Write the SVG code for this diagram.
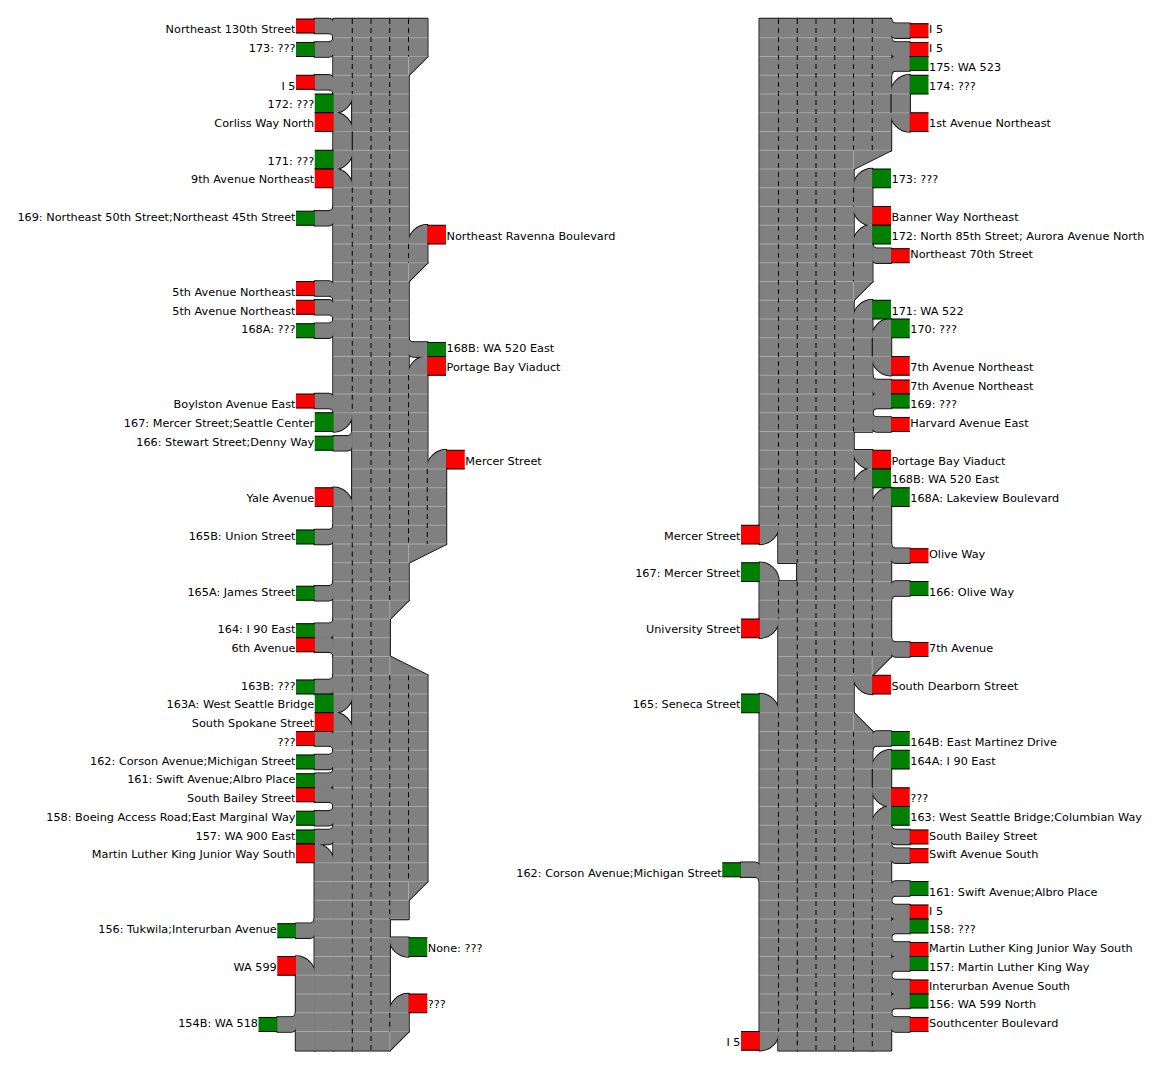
<svg xmlns="http://www.w3.org/2000/svg" width="1162" height="1070" viewBox="0 0 1162 1070">
<style>
text{font-family:"DejaVu Sans","Liberation Sans",sans-serif;font-size:11.25px;fill:#000;transform:translate(0px,0.8px)}
.e{text-anchor:end}
.ol{fill:#808080;stroke:#000;stroke-width:2.4;stroke-linejoin:round}
.fl{fill:#808080;stroke:#808080;stroke-width:0.8;stroke-linejoin:round}
.sep{fill:none;stroke:#a8a8a8;stroke-width:1}
.dash{fill:none;stroke:#000;stroke-width:1;stroke-dasharray:5 4}
.solid{fill:none;stroke:#000;stroke-width:1}
.rf{fill:#f00;stroke:#000;stroke-width:1;stroke-dasharray:18.75 18.75}
.gf{fill:#008000;stroke:#000;stroke-width:1;stroke-dasharray:18.75 18.75}
.rs{fill:#f00;stroke:#000;stroke-width:1;stroke-dasharray:18.75 14.06}
.gs{fill:#008000;stroke:#000;stroke-width:1;stroke-dasharray:18.75 14.06}
</style>
<defs>
<path id="sLTD" d="M-18.75,0H-4.69A4.69,4.69 0 0 1 0,4.69V18.75A4.69,4.69 0 0 0 -4.69,14.06H-18.75Z"/>
<path id="sLBU" d="M-18.75,4.69H-4.69A4.69,4.69 0 0 0 0,0V14.06A4.69,4.69 0 0 1 -4.69,18.75H-18.75Z"/>
<path id="sRTD" d="M18.75,0H4.69A4.69,4.69 0 0 0 0,4.69V18.75A4.69,4.69 0 0 1 4.69,14.06H18.75Z"/>
<path id="sRBU" d="M18.75,4.69H4.69A4.69,4.69 0 0 1 0,0V14.06A4.69,4.69 0 0 0 4.69,18.75H18.75Z"/>
<path id="dTL" d="M0,0H18.75A18.75,18.75 0 0 1 0,18.75Z"/>
<path id="dBL" d="M0,18.75V0A18.75,18.75 0 0 1 18.75,18.75Z"/>
<path id="dTR" d="M18.75,0V18.75A18.75,18.75 0 0 1 0,0Z"/>
<path id="dBR" d="M18.75,18.75H0A18.75,18.75 0 0 1 18.75,0Z"/>
<g id="Lroad">
<rect x="333.5" y="19" width="18.75" height="75"/>
<rect x="333.5" y="131.5" width="18.75" height="18.75"/>
<rect x="333.5" y="187.75" width="18.75" height="225"/>
<rect x="333.5" y="506.5" width="18.75" height="187.5"/>
<rect x="333.5" y="731.5" width="18.75" height="318.75"/>
<rect x="352.25" y="19" width="37.5" height="1031.25"/>
<rect x="389.75" y="19" width="18.75" height="581.25"/>
<rect x="389.75" y="675.25" width="18.75" height="243.75"/>
<rect x="389.75" y="1012.75" width="18.75" height="18.75"/>
<rect x="408.5" y="19" width="18.75" height="37.5"/>
<rect x="408.5" y="244" width="18.75" height="18.75"/>
<rect x="408.5" y="375.25" width="18.75" height="168.75"/>
<rect x="408.5" y="675.25" width="18.75" height="206.25"/>
<rect x="427.25" y="469" width="18.75" height="75"/>
<rect x="314.75" y="862.75" width="18.75" height="187.5"/>
<rect x="296" y="975.25" width="18.75" height="75"/>
<path d="M408.5,56.5H427.25L408.5,75.25Z M408.5,262.75H427.25L408.5,281.5Z M408.5,544H446L408.5,562.75Z M389.75,600.25H408.5L389.75,619Z M389.75,656.5L427.25,675.25H389.75Z M408.5,881.5H427.25L408.5,900.25Z M389.75,1031.5H408.5L389.75,1050.25Z"/>
<use href="#dTL" x="333.5" y="94"/>
<use href="#dBL" x="333.5" y="112.75"/>
<use href="#dTL" x="333.5" y="150.25"/>
<use href="#dBL" x="333.5" y="169"/>
<use href="#dBR" x="408.5" y="225.25"/>
<use href="#dBR" x="408.5" y="356.5"/>
<use href="#dTL" x="333.5" y="412.75"/>
<use href="#dBR" x="427.25" y="450.25"/>
<use href="#dBL" x="333.5" y="487.75"/>
<use href="#dTL" x="333.5" y="694"/>
<use href="#dBL" x="333.5" y="712.75"/>
<use href="#dBL" x="314.75" y="844"/>
<use href="#dTR" x="389.75" y="937.75"/>
<use href="#dBL" x="296" y="956.5"/>
<use href="#dBR" x="389.75" y="994"/>
</g>
<g id="Lramp">
<use href="#sLTD" x="333.5" y="19"/>
<use href="#sLTD" x="333.5" y="75.25"/>
<use href="#sLTD" x="333.5" y="281.5"/>
<use href="#sLTD" x="333.5" y="300.25"/>
<use href="#sLTD" x="333.5" y="394"/>
<use href="#sLTD" x="333.5" y="637.75"/>
<use href="#sLTD" x="333.5" y="731.5"/>
<use href="#sLTD" x="333.5" y="787.75"/>
<use href="#sLBU" x="333.5" y="37.75"/>
<use href="#sLBU" x="333.5" y="206.5"/>
<use href="#sLBU" x="333.5" y="319"/>
<use href="#sLBU" x="352.25" y="431.5"/>
<use href="#sLBU" x="333.5" y="525.25"/>
<use href="#sLBU" x="333.5" y="581.5"/>
<use href="#sLBU" x="333.5" y="619"/>
<use href="#sLBU" x="333.5" y="675.25"/>
<use href="#sLBU" x="333.5" y="750.25"/>
<use href="#sLBU" x="333.5" y="769"/>
<use href="#sLBU" x="333.5" y="806.5"/>
<use href="#sLBU" x="333.5" y="825.25"/>
<use href="#sLBU" x="314.75" y="919"/>
<use href="#sLBU" x="296" y="1012.75"/>
<use href="#sRBU" x="408.5" y="337.75"/>
</g>
<g id="Rroad">
<rect x="759.75" y="19" width="18.75" height="506.25"/>
<rect x="759.75" y="581.5" width="18.75" height="37.5"/>
<rect x="759.75" y="712.75" width="18.75" height="318.75"/>
<rect x="778.5" y="19" width="18.75" height="543.75"/>
<rect x="778.5" y="581.5" width="18.75" height="468.75"/>
<rect x="797.25" y="19" width="56.25" height="1031.25"/>
<rect x="853.5" y="19" width="37.5" height="131.25"/>
<rect x="853.5" y="187.75" width="18.75" height="18.75"/>
<rect x="853.5" y="244" width="18.75" height="37.5"/>
<rect x="853.5" y="319" width="18.75" height="112.5"/>
<rect x="853.5" y="487.75" width="18.75" height="187.5"/>
<rect x="853.5" y="731.5" width="18.75" height="318.75"/>
<rect x="872.25" y="337.75" width="18.75" height="18.75"/>
<rect x="872.25" y="506.5" width="18.75" height="150"/>
<rect x="872.25" y="769" width="18.75" height="18.75"/>
<rect x="872.25" y="825.25" width="18.75" height="225"/>
<rect x="891" y="94" width="18.75" height="18.75"/>
<path d="M853.5,150.25H891L853.5,169Z M853.5,281.5H872.25L853.5,300.25Z M872.25,656.5H891L872.25,675.25Z M853.5,712.75L872.25,731.5H853.5Z"/>
<use href="#dBR" x="891" y="75.25"/>
<use href="#dTR" x="891" y="112.75"/>
<use href="#dBR" x="853.5" y="169"/>
<use href="#dTR" x="853.5" y="206.5"/>
<use href="#dBR" x="853.5" y="225.25"/>
<use href="#dBR" x="853.5" y="300.25"/>
<use href="#dTR" x="853.5" y="450.25"/>
<use href="#dBR" x="853.5" y="469"/>
<use href="#dTR" x="853.5" y="675.25"/>
<use href="#dBR" x="872.25" y="319"/>
<use href="#dTR" x="872.25" y="356.5"/>
<use href="#dBR" x="872.25" y="487.75"/>
<use href="#dBR" x="872.25" y="750.25"/>
<use href="#dTR" x="872.25" y="787.75"/>
<use href="#dBR" x="872.25" y="806.5"/>
<use href="#dTL" x="759.75" y="525.25"/>
<use href="#dBL" x="759.75" y="562.75"/>
<use href="#dTL" x="759.75" y="619"/>
<use href="#dBL" x="759.75" y="694"/>
<use href="#dTL" x="759.75" y="1031.5"/>
</g>
<g id="Rramp">
<use href="#sRBU" x="891" y="19"/>
<use href="#sRBU" x="891" y="37.75"/>
<use href="#sRBU" x="872.25" y="244"/>
<use href="#sRBU" x="872.25" y="375.25"/>
<use href="#sRBU" x="872.25" y="412.75"/>
<use href="#sRBU" x="891" y="544"/>
<use href="#sRBU" x="891" y="637.75"/>
<use href="#sRBU" x="891" y="825.25"/>
<use href="#sRBU" x="891" y="844"/>
<use href="#sRBU" x="891" y="900.25"/>
<use href="#sRBU" x="891" y="937.75"/>
<use href="#sRBU" x="891" y="975.25"/>
<use href="#sRBU" x="891" y="1012.75"/>
<use href="#sRTD" x="891" y="56.5"/>
<use href="#sRTD" x="872.25" y="394"/>
<use href="#sRTD" x="891" y="581.5"/>
<use href="#sRTD" x="872.25" y="731.5"/>
<use href="#sRTD" x="891" y="881.5"/>
<use href="#sRTD" x="891" y="919"/>
<use href="#sRTD" x="891" y="956.5"/>
<use href="#sRTD" x="891" y="994"/>
<use href="#sLTD" x="759.75" y="862.75"/>
</g>
<mask id="mL" maskUnits="userSpaceOnUse" x="0" y="0" width="1162" height="1070"><use href="#Lroad" fill="#fff"/></mask>
<mask id="mR" maskUnits="userSpaceOnUse" x="0" y="0" width="1162" height="1070"><use href="#Rroad" fill="#fff"/></mask>
</defs>
<rect width="1162" height="1070" fill="#fff"/>
<g id="roads">
<use href="#Lroad" class="ol"/><use href="#Lramp" class="ol"/><use href="#Rroad" class="ol"/><use href="#Rramp" class="ol"/>
<use href="#Lroad" class="fl"/><use href="#Lramp" class="fl"/><use href="#Rroad" class="fl"/><use href="#Rramp" class="fl"/>
<path class="sep" mask="url(#mL)" d="M250,37.75H470M250,56.5H470M250,75.25H470M250,94H470M250,112.75H470M250,131.5H470M250,150.25H470M250,169H470M250,187.75H470M250,206.5H470M250,225.25H470M250,244H470M250,262.75H470M250,281.5H470M250,300.25H470M250,319H470M250,337.75H470M250,356.5H470M250,375.25H470M250,394H470M250,412.75H470M250,431.5H470M250,450.25H470M250,469H470M250,487.75H470M250,506.5H470M250,525.25H470M250,544H470M250,562.75H470M250,581.5H470M250,600.25H470M250,619H470M250,637.75H470M250,656.5H470M250,675.25H470M250,694H470M250,712.75H470M250,731.5H470M250,750.25H470M250,769H470M250,787.75H470M250,806.5H470M250,825.25H470M250,844H470M250,862.75H470M250,881.5H470M250,900.25H470M250,919H470M250,937.75H470M250,956.5H470M250,975.25H470M250,994H470M250,1012.75H470M250,1031.5H470"/>
<path class="sep" mask="url(#mR)" d="M715,37.75H935M715,56.5H935M715,75.25H935M715,94H935M715,112.75H935M715,131.5H935M715,150.25H935M715,169H935M715,187.75H935M715,206.5H935M715,225.25H935M715,244H935M715,262.75H935M715,281.5H935M715,300.25H935M715,319H935M715,337.75H935M715,356.5H935M715,375.25H935M715,394H935M715,412.75H935M715,431.5H935M715,450.25H935M715,469H935M715,487.75H935M715,506.5H935M715,525.25H935M715,544H935M715,562.75H935M715,581.5H935M715,600.25H935M715,619H935M715,637.75H935M715,656.5H935M715,675.25H935M715,694H935M715,712.75H935M715,731.5H935M715,750.25H935M715,769H935M715,787.75H935M715,806.5H935M715,825.25H935M715,844H935M715,862.75H935M715,881.5H935M715,900.25H935M715,919H935M715,937.75H935M715,956.5H935M715,975.25H935M715,994H935M715,1012.75H935M715,1031.5H935"/>
<path class="sep" d="M408.5,56.5V75.25M408.5,262.75V281.5M408.5,544V562.75M389.75,600.25V619M389.75,656.5V675.25M408.5,881.5V900.25M389.75,1031.5V1050.25M853.5,150.25V169M853.5,281.5V300.25M872.25,656.5V675.25M853.5,712.75V731.5"/>
<path class="dash" d="M352.25,19V94M352.25,187.75V412.75M352.25,506.5V694M352.25,731.5V1050.25M371,19V1050.25M389.75,19V600.25M389.75,675.25V919M389.75,1012.75V1031.5M408.5,19V56.5M408.5,244V262.75M408.5,375.25V544M408.5,675.25V881.5M427.25,469V544"/>
<path class="dash" d="M778.5,19V525.25M778.5,581.5V619M778.5,712.75V1031.5M797.25,19V562.75M797.25,581.5V1050.25M816,19V1050.25M834.75,19V1050.25M853.5,19V150.25M853.5,187.75V206.5M853.5,244V281.5M853.5,319V431.5M853.5,487.75V675.25M853.5,731.5V1050.25M872.25,19V150.25M872.25,506.5V656.5M872.25,825.25V1050.25"/>
<path class="solid" d="M352.25,131.5V150.25M891,94V112.75M872.25,337.75V356.5M872.25,769V787.75"/>
</g>
<g id="left-ramps">
<g id="L0"><rect class="rs" x="296" y="19" width="18.75" height="14.06"/><text class="e" x="295.5" y="32.6">Northeast 130th Street</text></g>
<g id="L1"><rect class="gs" x="296" y="42.44" width="18.75" height="14.06"/><text class="e" x="295.5" y="51.35">173: ???</text></g>
<g id="L3"><rect class="rs" x="296" y="75.25" width="18.75" height="14.06"/><text class="e" x="295.5" y="88.85">I 5</text></g>
<g id="L4"><rect class="gf" x="314.75" y="94" width="18.75" height="18.75"/><text class="e" x="314.25" y="107.6">172: ???</text></g>
<g id="L5"><rect class="rf" x="314.75" y="112.75" width="18.75" height="18.75"/><text class="e" x="314.25" y="126.35">Corliss Way North</text></g>
<g id="L7"><rect class="gf" x="314.75" y="150.25" width="18.75" height="18.75"/><text class="e" x="314.25" y="163.85">171: ???</text></g>
<g id="L8"><rect class="rf" x="314.75" y="169" width="18.75" height="18.75"/><text class="e" x="314.25" y="182.6">9th Avenue Northeast</text></g>
<g id="L10"><rect class="gs" x="296" y="211.19" width="18.75" height="14.06"/><text class="e" x="295.5" y="220.1">169: Northeast 50th Street;Northeast 45th Street</text></g>
<g id="L11"><rect class="rf" x="427.25" y="225.25" width="18.75" height="18.75"/><text x="446.5" y="238.85">Northeast Ravenna Boulevard</text></g>
<g id="L14"><rect class="rs" x="296" y="281.5" width="18.75" height="14.06"/><text class="e" x="295.5" y="295.1">5th Avenue Northeast</text></g>
<g id="L15"><rect class="rs" x="296" y="300.25" width="18.75" height="14.06"/><text class="e" x="295.5" y="313.85">5th Avenue Northeast</text></g>
<g id="L16"><rect class="gs" x="296" y="323.69" width="18.75" height="14.06"/><text class="e" x="295.5" y="332.6">168A: ???</text></g>
<g id="L17"><rect class="gs" x="427.25" y="342.44" width="18.75" height="14.06"/><text x="446.5" y="351.35">168B: WA 520 East</text></g>
<g id="L18"><rect class="rf" x="427.25" y="356.5" width="18.75" height="18.75"/><text x="446.5" y="370.1">Portage Bay Viaduct</text></g>
<g id="L20"><rect class="rs" x="296" y="394" width="18.75" height="14.06"/><text class="e" x="295.5" y="407.6">Boylston Avenue East</text></g>
<g id="L21"><rect class="gf" x="314.75" y="412.75" width="18.75" height="18.75"/><text class="e" x="314.25" y="426.35">167: Mercer Street;Seattle Center</text></g>
<g id="L22"><rect class="gs" x="314.75" y="436.19" width="18.75" height="14.06"/><text class="e" x="314.25" y="445.1">166: Stewart Street;Denny Way</text></g>
<g id="L23"><rect class="rf" x="446" y="450.25" width="18.75" height="18.75"/><text x="465.25" y="463.85">Mercer Street</text></g>
<g id="L25"><rect class="rf" x="314.75" y="487.75" width="18.75" height="18.75"/><text class="e" x="314.25" y="501.35">Yale Avenue</text></g>
<g id="L27"><rect class="gs" x="296" y="529.94" width="18.75" height="14.06"/><text class="e" x="295.5" y="538.85">165B: Union Street</text></g>
<g id="L30"><rect class="gs" x="296" y="586.19" width="18.75" height="14.06"/><text class="e" x="295.5" y="595.1">165A: James Street</text></g>
<g id="L32"><rect class="gs" x="296" y="623.69" width="18.75" height="14.06"/><text class="e" x="295.5" y="632.6">164: I 90 East</text></g>
<g id="L33"><rect class="rs" x="296" y="637.75" width="18.75" height="14.06"/><text class="e" x="295.5" y="651.35">6th Avenue</text></g>
<g id="L35"><rect class="gs" x="296" y="679.94" width="18.75" height="14.06"/><text class="e" x="295.5" y="688.85">163B: ???</text></g>
<g id="L36"><rect class="gf" x="314.75" y="694" width="18.75" height="18.75"/><text class="e" x="314.25" y="707.6">163A: West Seattle Bridge</text></g>
<g id="L37"><rect class="rf" x="314.75" y="712.75" width="18.75" height="18.75"/><text class="e" x="314.25" y="726.35">South Spokane Street</text></g>
<g id="L38"><rect class="rs" x="296" y="731.5" width="18.75" height="14.06"/><text class="e" x="295.5" y="745.1">???</text></g>
<g id="L39"><rect class="gs" x="296" y="754.94" width="18.75" height="14.06"/><text class="e" x="295.5" y="763.85">162: Corson Avenue;Michigan Street</text></g>
<g id="L40"><rect class="gs" x="296" y="773.69" width="18.75" height="14.06"/><text class="e" x="295.5" y="782.6">161: Swift Avenue;Albro Place</text></g>
<g id="L41"><rect class="rs" x="296" y="787.75" width="18.75" height="14.06"/><text class="e" x="295.5" y="801.35">South Bailey Street</text></g>
<g id="L42"><rect class="gs" x="296" y="811.19" width="18.75" height="14.06"/><text class="e" x="295.5" y="820.1">158: Boeing Access Road;East Marginal Way</text></g>
<g id="L43"><rect class="gs" x="296" y="829.94" width="18.75" height="14.06"/><text class="e" x="295.5" y="838.85">157: WA 900 East</text></g>
<g id="L44"><rect class="rf" x="296" y="844" width="18.75" height="18.75"/><text class="e" x="295.5" y="857.6">Martin Luther King Junior Way South</text></g>
<g id="L48"><rect class="gs" x="277.25" y="923.69" width="18.75" height="14.06"/><text class="e" x="276.75" y="932.6">156: Tukwila;Interurban Avenue</text></g>
<g id="L49"><rect class="gf" x="408.5" y="937.75" width="18.75" height="18.75"/><text x="427.75" y="951.35">None: ???</text></g>
<g id="L50"><rect class="rf" x="277.25" y="956.5" width="18.75" height="18.75"/><text class="e" x="276.75" y="970.1">WA 599</text></g>
<g id="L52"><rect class="rf" x="408.5" y="994" width="18.75" height="18.75"/><text x="427.75" y="1007.6">???</text></g>
<g id="L53"><rect class="gs" x="258.5" y="1017.44" width="18.75" height="14.06"/><text class="e" x="258" y="1026.35">154B: WA 518</text></g>
</g>
<g id="right-ramps">
<g id="R0"><rect class="rs" x="909.75" y="23.69" width="18.75" height="14.06"/><text x="929" y="32.6">I 5</text></g>
<g id="R1"><rect class="rs" x="909.75" y="42.44" width="18.75" height="14.06"/><text x="929" y="51.35">I 5</text></g>
<g id="R2"><rect class="gs" x="909.75" y="56.5" width="18.75" height="14.06"/><text x="929" y="70.1">175: WA 523</text></g>
<g id="R3"><rect class="gf" x="909.75" y="75.25" width="18.75" height="18.75"/><text x="929" y="88.85">174: ???</text></g>
<g id="R5"><rect class="rf" x="909.75" y="112.75" width="18.75" height="18.75"/><text x="929" y="126.35">1st Avenue Northeast</text></g>
<g id="R8"><rect class="gf" x="872.25" y="169" width="18.75" height="18.75"/><text x="891.5" y="182.6">173: ???</text></g>
<g id="R10"><rect class="rf" x="872.25" y="206.5" width="18.75" height="18.75"/><text x="891.5" y="220.1">Banner Way Northeast</text></g>
<g id="R11"><rect class="gf" x="872.25" y="225.25" width="18.75" height="18.75"/><text x="891.5" y="238.85">172: North 85th Street; Aurora Avenue North</text></g>
<g id="R12"><rect class="rs" x="891" y="248.69" width="18.75" height="14.06"/><text x="910.25" y="257.6">Northeast 70th Street</text></g>
<g id="R15"><rect class="gf" x="872.25" y="300.25" width="18.75" height="18.75"/><text x="891.5" y="313.85">171: WA 522</text></g>
<g id="R16"><rect class="gf" x="891" y="319" width="18.75" height="18.75"/><text x="910.25" y="332.6">170: ???</text></g>
<g id="R18"><rect class="rf" x="891" y="356.5" width="18.75" height="18.75"/><text x="910.25" y="370.1">7th Avenue Northeast</text></g>
<g id="R19"><rect class="rs" x="891" y="379.94" width="18.75" height="14.06"/><text x="910.25" y="388.85">7th Avenue Northeast</text></g>
<g id="R20"><rect class="gs" x="891" y="394" width="18.75" height="14.06"/><text x="910.25" y="407.6">169: ???</text></g>
<g id="R21"><rect class="rs" x="891" y="417.44" width="18.75" height="14.06"/><text x="910.25" y="426.35">Harvard Avenue East</text></g>
<g id="R23"><rect class="rf" x="872.25" y="450.25" width="18.75" height="18.75"/><text x="891.5" y="463.85">Portage Bay Viaduct</text></g>
<g id="R24"><rect class="gf" x="872.25" y="469" width="18.75" height="18.75"/><text x="891.5" y="482.6">168B: WA 520 East</text></g>
<g id="R25"><rect class="gf" x="891" y="487.75" width="18.75" height="18.75"/><text x="910.25" y="501.35">168A: Lakeview Boulevard</text></g>
<g id="R27"><rect class="rf" x="741" y="525.25" width="18.75" height="18.75"/><text class="e" x="740.5" y="538.85">Mercer Street</text></g>
<g id="R28"><rect class="rs" x="909.75" y="548.69" width="18.75" height="14.06"/><text x="929" y="557.6">Olive Way</text></g>
<g id="R29"><rect class="gf" x="741" y="562.75" width="18.75" height="18.75"/><text class="e" x="740.5" y="576.35">167: Mercer Street</text></g>
<g id="R30"><rect class="gs" x="909.75" y="581.5" width="18.75" height="14.06"/><text x="929" y="595.1">166: Olive Way</text></g>
<g id="R32"><rect class="rf" x="741" y="619" width="18.75" height="18.75"/><text class="e" x="740.5" y="632.6">University Street</text></g>
<g id="R33"><rect class="rs" x="909.75" y="642.44" width="18.75" height="14.06"/><text x="929" y="651.35">7th Avenue</text></g>
<g id="R35"><rect class="rf" x="872.25" y="675.25" width="18.75" height="18.75"/><text x="891.5" y="688.85">South Dearborn Street</text></g>
<g id="R36"><rect class="gf" x="741" y="694" width="18.75" height="18.75"/><text class="e" x="740.5" y="707.6">165: Seneca Street</text></g>
<g id="R38"><rect class="gs" x="891" y="731.5" width="18.75" height="14.06"/><text x="910.25" y="745.1">164B: East Martinez Drive</text></g>
<g id="R39"><rect class="gf" x="891" y="750.25" width="18.75" height="18.75"/><text x="910.25" y="763.85">164A: I 90 East</text></g>
<g id="R41"><rect class="rf" x="891" y="787.75" width="18.75" height="18.75"/><text x="910.25" y="801.35">???</text></g>
<g id="R42"><rect class="gf" x="891" y="806.5" width="18.75" height="18.75"/><text x="910.25" y="820.1">163: West Seattle Bridge;Columbian Way</text></g>
<g id="R43"><rect class="rs" x="909.75" y="829.94" width="18.75" height="14.06"/><text x="929" y="838.85">South Bailey Street</text></g>
<g id="R44"><rect class="rs" x="909.75" y="848.69" width="18.75" height="14.06"/><text x="929" y="857.6">Swift Avenue South</text></g>
<g id="R45"><rect class="gs" x="722.25" y="862.75" width="18.75" height="14.06"/><text class="e" x="721.75" y="876.35">162: Corson Avenue;Michigan Street</text></g>
<g id="R46"><rect class="gs" x="909.75" y="881.5" width="18.75" height="14.06"/><text x="929" y="895.1">161: Swift Avenue;Albro Place</text></g>
<g id="R47"><rect class="rs" x="909.75" y="904.94" width="18.75" height="14.06"/><text x="929" y="913.85">I 5</text></g>
<g id="R48"><rect class="gs" x="909.75" y="919" width="18.75" height="14.06"/><text x="929" y="932.6">158: ???</text></g>
<g id="R49"><rect class="rs" x="909.75" y="942.44" width="18.75" height="14.06"/><text x="929" y="951.35">Martin Luther King Junior Way South</text></g>
<g id="R50"><rect class="gs" x="909.75" y="956.5" width="18.75" height="14.06"/><text x="929" y="970.1">157: Martin Luther King Way</text></g>
<g id="R51"><rect class="rs" x="909.75" y="979.94" width="18.75" height="14.06"/><text x="929" y="988.85">Interurban Avenue South</text></g>
<g id="R52"><rect class="gs" x="909.75" y="994" width="18.75" height="14.06"/><text x="929" y="1007.6">156: WA 599 North</text></g>
<g id="R53"><rect class="rs" x="909.75" y="1017.44" width="18.75" height="14.06"/><text x="929" y="1026.35">Southcenter Boulevard</text></g>
<g id="R54"><rect class="rf" x="741" y="1031.5" width="18.75" height="18.75"/><text class="e" x="740.5" y="1045.1">I 5</text></g>
</g>
</svg>
